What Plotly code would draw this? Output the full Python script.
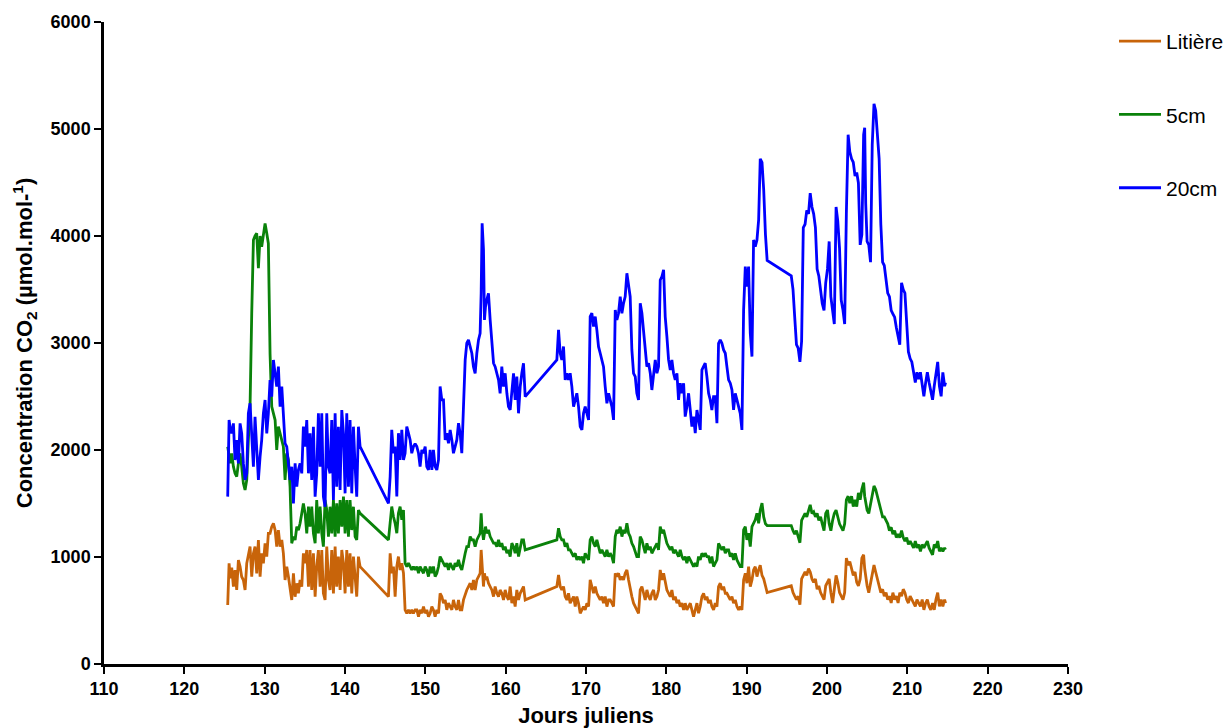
import plotly.graph_objects as go

# Jours juliens (échantillonnage commun aux trois capteurs)
jours = [
    # 125.4 - 141.9
    125.40, 125.57, 125.73, 125.90, 126.11, 126.31, 126.52, 126.73, 126.94, 127.14,
    127.35, 127.56, 127.77, 127.97, 128.18, 128.39, 128.60, 128.80, 129.01, 129.22,
    129.43, 129.63, 129.84, 130.05, 130.26, 130.46, 130.67, 130.88, 131.09, 131.30,
    131.50, 131.71, 131.92, 132.13, 132.33, 132.54, 132.75, 132.96, 133.16, 133.37,
    133.58, 133.79, 134.00, 134.20, 134.41, 134.62, 134.82, 135.03, 135.24, 135.45,
    135.65, 135.86, 136.07, 136.28, 136.48, 136.69, 136.90, 137.11, 137.31, 137.52,
    137.73, 137.94, 138.14, 138.35, 138.56, 138.77, 138.97, 139.18, 139.39, 139.60,
    139.81, 140.01, 140.22, 140.43, 140.63, 140.84, 141.05, 141.26, 141.46, 141.67,
    141.88,
    # 145.4 - 162.4
    145.41, 145.62, 145.82, 146.03, 146.24, 146.45, 146.65, 146.86, 147.07, 147.28,
    147.48, 147.69, 147.90, 148.11, 148.31, 148.52, 148.73, 148.94, 149.15, 149.35,
    149.56, 149.77, 149.98, 150.18, 150.39, 150.60, 150.81, 151.01, 151.22, 151.43,
    151.64, 151.84, 152.05, 152.26, 152.47, 152.67, 152.88, 153.09, 153.30, 153.50,
    153.71, 153.92, 154.13, 154.33, 154.54, 154.75, 154.96, 155.16, 155.37, 155.58,
    155.79, 155.99, 156.20, 156.41, 156.62, 156.82,
    156.95, 157.07, 157.24, 157.36, 157.49, 157.65,
    157.86, 158.07, 158.28, 158.49, 158.69, 158.90, 159.11, 159.31, 159.52, 159.73,
    159.94, 160.15, 160.35, 160.56, 160.77, 160.98, 161.18, 161.39, 161.60, 161.81,
    162.01, 162.22, 162.43,
    # 166.4 - 169.1
    166.37, 166.58, 166.79, 166.99, 167.20, 167.41, 167.62, 167.82, 168.03, 168.24,
    168.45, 168.66, 168.86, 169.07,
    # 169.3 - 191.5
    169.28, 169.49, 169.69, 169.90, 170.11, 170.32, 170.52, 170.73, 170.94, 171.15,
    171.35, 171.56, 171.77, 171.98, 172.18, 172.39, 172.60, 172.81, 173.01, 173.22,
    173.43, 173.64, 173.84, 174.05, 174.26, 174.47, 174.67, 174.88, 175.09, 175.30,
    175.50, 175.71, 175.92, 176.13, 176.33, 176.54, 176.75, 176.96, 177.17, 177.37,
    177.58, 177.79, 178.00, 178.20, 178.41, 178.62, 178.83, 179.03, 179.24, 179.45,
    179.66, 179.86, 180.07, 180.28, 180.49, 180.69, 180.90, 181.11, 181.32, 181.52,
    181.73, 181.94, 182.15, 182.35, 182.56, 182.77, 182.98, 183.18, 183.39, 183.60,
    183.81, 184.01, 184.22, 184.43, 184.64, 184.84, 185.05, 185.26, 185.47, 185.67,
    185.88, 186.09, 186.30, 186.50, 186.71, 186.92, 187.13, 187.34, 187.54, 187.75,
    187.96, 188.17, 188.37, 188.58, 188.79, 189.00, 189.20, 189.41, 189.62, 189.83,
    190.03, 190.24, 190.45, 190.66, 190.86, 191.07, 191.28, 191.49,
    # 191.7 - 192.6
    191.69, 191.91, 192.12, 192.34, 192.55,
    # 195.6 - 214.8
    195.55, 195.77, 195.98, 196.20, 196.41, 196.63, 196.84, 197.05, 197.27, 197.48,
    197.70, 197.91, 198.13, 198.34, 198.56, 198.77, 198.98, 199.20, 199.41, 199.63,
    199.84, 200.06, 200.27, 200.48, 200.70, 200.91, 201.13, 201.34, 201.56, 201.77,
    201.99, 202.20, 202.41, 202.63, 202.84, 203.06, 203.27, 203.49, 203.70, 203.91,
    204.13, 204.34, 204.56,
    204.69, 204.82,
    204.99, 205.20, 205.42, 205.63, 205.85, 206.06, 206.27, 206.49, 206.70, 206.92,
    207.13, 207.35, 207.56, 207.77, 207.99, 208.20, 208.42, 208.63, 208.85, 209.06,
    209.28, 209.49, 209.70, 209.92, 210.13, 210.35, 210.56, 210.78, 210.99, 211.20,
    211.42, 211.63, 211.85, 212.06, 212.28, 212.49, 212.71, 212.92, 213.14, 213.35,
    213.56, 213.78, 213.99, 214.21, 214.42, 214.64,
    214.76,
]

# Litière (µmol.mol-1)
litiere = [
    551, 941, 800, 900, 723, 878, 692, 972, 910, 816,
    785, 692, 941, 1034, 1097, 816, 1034, 1097, 847, 1159,
    816, 1034, 941, 1128, 1003, 1221, 1221, 1283, 1315, 1252,
    1097, 1252, 1097, 1159, 1034, 785, 910, 816, 692, 598,
    847, 629, 754, 660, 785, 723, 1034, 941, 1065, 723,
    1065, 692, 1034, 629, 910, 1065, 723, 1065, 660, 598,
    1097, 785, 692, 1065, 660, 1097, 723, 1003, 692, 1065,
    941, 660, 1065, 723, 1034, 660, 1003, 785, 629, 1003,
    910,
    630, 1035, 848, 911, 630, 911, 1004, 879, 942, 848,
    506, 474, 506, 474, 506, 474, 506, 506, 443, 506,
    474, 537, 474, 506, 443, 474, 537, 506, 443, 506,
    474, 661, 630, 568, 599, 506, 568, 537, 506, 599,
    537, 506, 599, 506, 506, 599, 661, 692, 724, 755,
    692, 786, 692, 786, 817, 848,
    1066, 911, 724, 848, 786, 817,
    755, 724, 692, 630, 724, 661, 630, 692, 661, 599,
    692, 630, 599, 724, 568, 630, 537, 692, 599, 661,
    692, 724, 599,
    724, 833, 724, 692, 724, 630, 599, 661, 568, 599,
    630, 537, 630, 568,
    474, 506, 537, 506, 568, 537, 786, 724, 661, 724,
    661, 630, 599, 630, 568, 630, 537, 599, 599, 568,
    537, 848, 817, 848, 786, 817, 786, 848, 879, 786,
    692, 630, 568, 537, 506, 474, 692, 724, 661, 599,
    692, 630, 599, 661, 692, 599, 630, 692, 879, 786,
    848, 755, 692, 661, 630, 692, 599, 630, 568, 599,
    537, 568, 506, 568, 506, 537, 568, 506, 443, 506,
    568, 474, 537, 630, 661, 599, 630, 568, 599, 537,
    506, 568, 537, 723, 755, 692, 724, 661, 661, 630,
    599, 630, 568, 599, 537, 506, 537, 506, 786, 848,
    755, 910, 724, 786, 879, 910, 817, 879,
    924, 828, 796, 731, 667,
    731, 667, 634, 602, 634, 554, 795, 828, 860, 828,
    892, 860, 795, 763, 795, 699, 731, 667, 634, 602,
    731, 763, 795, 667, 570, 699, 828, 763, 667, 634,
    602, 667, 989, 924, 956, 892, 828, 860, 763, 731,
    795, 989, 1021,
    892, 795,
    731, 667, 763, 860, 924, 860, 795, 731, 667, 699,
    634, 667, 602, 634, 570, 667, 602, 634, 570, 667,
    634, 699, 667, 602, 570, 634, 602, 570, 538, 602,
    570, 538, 602, 506, 570, 602, 538, 506, 570, 506,
    602, 667, 538, 602, 538, 602,
    570,
]

# 5cm (µmol.mol-1)
cm5 = [
    2031, 1950, 1875, 1969, 1844, 1782, 1751, 1875, 1969, 1844,
    1688, 1626, 1720, 2093, 2405, 3277, 3962, 4000, 4025, 3700,
    4000, 3900, 3993, 4118, 4025, 3930, 2900, 2405, 2343, 2280,
    2000, 2218, 2156, 2093, 2031, 1720, 1969, 1906, 1657, 1128,
    1190, 1159, 1283, 1252, 1315, 1408, 1501, 1408, 1221, 1470,
    1283, 1470, 1221, 1128, 1533, 1221, 1470, 1221, 1097, 1533,
    1439, 1190, 1470, 1221, 1533, 1190, 1501, 1221, 1533, 1283,
    1564, 1221, 1533, 1190, 1533, 1252, 1470, 1190, 1159, 1439,
    1408,
    1160, 1347, 1471, 1378, 1315, 1222, 1409, 1471, 1347, 1440,
    942, 911, 942, 911, 879, 911, 879, 911, 848, 911,
    879, 848, 911, 879, 817, 911, 848, 911, 817, 848,
    911, 1004, 973, 942, 911, 942, 879, 942, 911, 879,
    942, 911, 973, 911, 879, 973, 1035, 1097, 1097, 1191,
    1160, 1160, 1097, 1160, 1191, 1222,
    1409, 1253, 1160, 1222, 1284, 1222,
    1253, 1191, 1160, 1129, 1129, 1097, 1160, 1097, 1129, 1066,
    1097, 1035, 1066, 1004, 1129, 1097, 1035, 1129, 1004, 1097,
    1160, 1160, 1066,
    1160, 1269, 1191, 1160, 1160, 1097, 1129, 1066, 1066, 1035,
    1004, 1035, 973, 1004,
    973, 1004, 942, 1035, 1004, 973, 1160, 1191, 1128, 1097,
    1160, 1097, 1035, 1066, 1035, 1004, 1066, 1004, 1035, 1004,
    942, 1191, 1253, 1222, 1284, 1191, 1253, 1222, 1315, 1222,
    1191, 1128, 1097, 1035, 1004, 1004, 1191, 1160, 1097, 1035,
    1128, 1066, 1097, 1035, 1066, 1097, 1128, 1066, 1284, 1222,
    1253, 1191, 1128, 1097, 1066, 1097, 1035, 1066, 1035, 1004,
    1066, 1004, 973, 1004, 942, 1004, 973, 942, 910, 942,
    910, 1004, 973, 1035, 1004, 1035, 1004, 1004, 942, 1004,
    910, 942, 973, 1128, 1097, 1066, 1097, 1035, 1066, 1066,
    1004, 1035, 973, 1035, 973, 942, 910, 910, 1253, 1284,
    1160, 1222, 1097, 1284, 1315, 1347, 1409, 1315,
    1439, 1504, 1375, 1310, 1294,
    1294, 1246, 1214, 1246, 1182, 1133, 1343, 1375, 1407, 1375,
    1439, 1487, 1407, 1423, 1375, 1407, 1343, 1375, 1310, 1246,
    1407, 1439, 1310, 1246, 1343, 1407, 1439, 1375, 1310, 1278,
    1246, 1310, 1535, 1568, 1504, 1568, 1471, 1535, 1471, 1600,
    1535, 1632, 1696,
    1568, 1504,
    1439, 1407, 1504, 1600, 1664, 1632, 1568, 1504, 1439, 1375,
    1375, 1343, 1310, 1246, 1278, 1214, 1246, 1182, 1214, 1182,
    1246, 1182, 1149, 1182, 1117, 1149, 1117, 1085, 1149, 1085,
    1117, 1053, 1117, 1085, 1117, 1149, 1085, 1053, 1021, 1117,
    1085, 1149, 1053, 1085, 1053, 1085,
    1069,
]

# 20cm (µmol.mol-1)
cm20 = [
    1564, 2280, 2190, 2156, 2249, 1906, 2093, 1875, 2249, 2156,
    1875, 1720, 1782, 2343, 2436, 2093, 1844, 2311, 2031, 1720,
    1938, 2093, 2343, 2467, 2156, 2343, 2654, 2498, 2841, 2716,
    2592, 2779, 2405, 2592, 2343, 2062, 2031, 1875, 1720, 1844,
    1501, 1875, 1657, 1813, 1875, 1782, 2218, 2031, 2280, 1782,
    2156, 1720, 2218, 1564, 1782, 2343, 1844, 2343, 1564, 1470,
    2343, 1844, 1782, 2280, 1533, 2343, 1657, 2218, 1626, 2374,
    2156, 1595, 2343, 1657, 2280, 1595, 2218, 1844, 1564, 2218,
    2031,
    1502, 1751, 2188, 1970, 2032, 1565, 2157, 1907, 2188, 1907,
    1970, 2219, 2157, 2094, 1970, 2032, 2060, 2032, 1970, 1845,
    2001, 1970, 2032, 1845, 1814, 2001, 1814, 2001, 1845, 1814,
    1907, 2593, 2468, 2468, 2094, 2157, 2063, 2188, 2094, 1970,
    2032, 2094, 2250, 2157, 1970, 2468, 2842, 2998, 3029, 2967,
    2904, 2779, 2717, 2904, 3029, 3091,
    3465, 4119, 3870, 3216, 3340, 3403,
    3465, 3216, 3029, 2811, 2779, 2717, 2655, 2530, 2779, 2593,
    2717, 2530, 2406, 2374, 2593, 2717, 2468, 2686, 2343, 2593,
    2717, 2811, 2499,
    2842, 3122, 2904, 2842, 2967, 2655, 2717, 2655, 2717, 2593,
    2406, 2468, 2530, 2406,
    2219, 2188, 2343, 2406, 2343, 2281, 3247, 3278, 3153, 3247,
    3122, 2966, 2904, 2842, 2779, 2593, 2437, 2530, 2468, 2406,
    2281, 3309, 3216, 3278, 3434, 3278, 3371, 3434, 3652, 3527,
    3434, 2935, 2717, 2686, 2530, 2468, 3371, 3278, 3122, 2966,
    2779, 2811, 2717, 2561, 2686, 2842, 2717, 2779, 3589, 3620,
    3683, 3247, 3060, 2842, 2748, 2842, 2717, 2655, 2717, 2468,
    2624, 2530, 2624, 2312, 2406, 2530, 2374, 2219, 2312, 2157,
    2374, 2281, 2188, 2748, 2779, 2811, 2686, 2530, 2468, 2374,
    2499, 2499, 2250, 2997, 3029, 2997, 2935, 2904, 2779, 2655,
    2624, 2561, 2374, 2530, 2468, 2406, 2343, 2188, 3309, 3714,
    3527, 3714, 3091, 2873, 3963, 3901, 3963, 4150,
    4721, 4689, 4432, 4013, 3772,
    3627, 3499, 3241, 2984, 2952, 2823, 3016, 4078, 4110, 4239,
    4207, 4400, 4271, 4207, 4078, 3692, 3627, 3466, 3370, 3305,
    3563, 3692, 3949, 3434, 3305, 3177, 4271, 4142, 3885, 3402,
    3305, 3177, 4207, 4947, 4786, 4721, 4689, 4561, 4593, 4496,
    3917, 4013, 4947,
    5011, 4303,
    3949, 3917, 3756, 4850, 5236, 5172, 4979, 4721, 4110, 3756,
    3724, 3563, 3466, 3434, 3305, 3273, 3241, 3145, 3048, 2984,
    3563, 3499, 3466, 3209, 2919, 2855, 2823, 2726, 2630, 2726,
    2662, 2726, 2598, 2501, 2630, 2726, 2630, 2565, 2469, 2598,
    2694, 2823, 2598, 2501, 2726, 2598,
    2630,
]

noms = ["Litière", "5cm", "20cm"]
couleurs = ["#C8640A", "#0A820A", "#0000FF"]
x_ticks = [110, 120, 130, 140, 150, 160, 170, 180, 190, 200, 210, 220, 230]
y_ticks = [0, 1000, 2000, 3000, 4000, 5000, 6000]

fig = go.Figure()
for nom, serie, coul in zip(noms, [litiere, cm5, cm20], couleurs):
    fig.add_trace(go.Scatter(
        x=jours, y=serie, mode="lines", name=nom, legendgroup=nom,
        line=dict(color=coul, width=2.8),
    ))

famille = "Liberation Sans, Arial, sans-serif"
axis_font = dict(family=famille, size=18, color="black", weight="bold")
title_font = dict(family=famille, size=22, color="black", weight="bold")

fig.update_layout(
    width=1224, height=728,
    paper_bgcolor="white", plot_bgcolor="white",
    margin=dict(l=104, r=156, t=22, b=64),
    showlegend=True,
    legend=dict(
        x=1114 / 1224, xref="container", xanchor="left",
        y=1 - 21 / 728, yref="container", yanchor="top",
        font=dict(family=famille, size=21, color="black"),
        traceorder="grouped", tracegroupgap=43,
        itemwidth=42, bgcolor="rgba(0,0,0,0)",
    ),
    xaxis=dict(
        range=[110, 230], tickvals=x_ticks, ticktext=[str(v) for v in x_ticks],
        showline=True, linecolor="black", linewidth=2.5, mirror=False,
        ticks="outside", ticklen=7, tickwidth=2, tickcolor="black",
        showgrid=False, zeroline=False, tickfont=axis_font, automargin=False,
        title=dict(text="Jours juliens", font=title_font, standoff=14),
    ),
    yaxis=dict(
        range=[0, 6000], tickvals=y_ticks, ticktext=[str(v) for v in y_ticks],
        showline=True, linecolor="black", linewidth=2.5,
        ticks="outside", ticklen=7, tickwidth=2, tickcolor="black",
        showgrid=False, zeroline=False, tickfont=axis_font, automargin=False,
        title=dict(text="Concentration CO<sub>2</sub> (µmol.mol-<sup>1</sup>)", font=title_font, standoff=12),
    ),
)

fig.write_html(
    "out.html",
    config={"displayModeBar": False},
    post_script="document.body.style.margin='0px';",
)
